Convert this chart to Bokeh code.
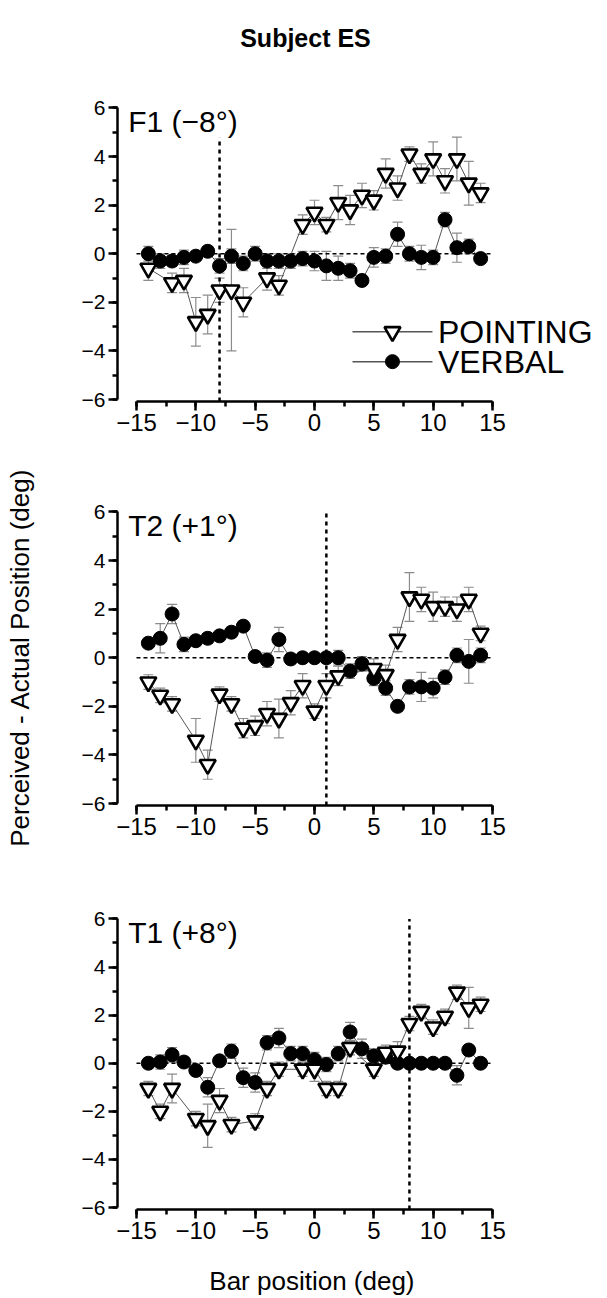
from bokeh.plotting import figure
from bokeh.models import ColumnDataSource, Whisker, TeeHead, Label, Range1d, SingleIntervalTicker
from bokeh.layouts import column
from bokeh.embed import file_html
from bokeh.resources import INLINE

# ---------------- data ----------------
title_text = "Subject ES"
y_label = "Perceived - Actual Position (deg)"
x_label = "Bar position (deg)"
series_names = ["POINTING", "VERBAL"]

x_ticks = [-15, -10, -5, 0, 5, 10, 15]
y_ticks = [-6, -4, -2, 0, 2, 4, 6]

all_x = list(range(-14, 15))

# Panel F1 (-8 deg)
f1_name = "F1 (\u22128\u00b0)"
f1_fix = -8
f1_point_x = [-14, -12, -11, -10, -9, -8, -7, -6, -4, -3, -1, 0, 1, 2, 3, 4, 5, 6, 7, 8, 9, 10, 11, 12, 13, 14]
f1_point_y = [-0.6, -1.2, -1.1, -2.8, -2.5, -1.5, -1.5, -2.0, -1.0, -1.3, 1.2, 1.7, 1.2, 2.1, 1.8, 2.4, 2.2, 3.3, 2.7, 4.1, 3.3, 3.9, 3.0, 3.9, 2.9, 2.5]
f1_point_e = [0.5, 0.4, 0.5, 1.0, 0.8, 0.5, 2.5, 0.6, 0.5, 0.4, 0.4, 0.5, 0.3, 0.7, 0.6, 0.5, 0.4, 0.6, 0.5, 0.3, 0.4, 0.7, 0.5, 0.9, 0.9, 0.4]
f1_verb_y = [0.0, -0.3, -0.3, -0.15, -0.1, 0.1, -0.5, -0.1, -0.4, 0.0, -0.3, -0.3, -0.3, -0.2, -0.3,
             -0.5, -0.6, -0.7, -1.1, -0.15, -0.1, 0.8, 0.0, -0.15, -0.15, 1.4, 0.25, 0.3, -0.2]
f1_verb_e = [0.3, 0.3, 0.2, 0.3, 0.2, 0.2, 0.3, 0.3, 0.3, 0.3, 0.3, 0.3, 0.3, 0.3, 0.4,
             0.6, 0.5, 0.3, 0.2, 0.4, 0.3, 0.5, 0.3, 0.5, 0.3, 0.3, 0.6, 0.3, 0.2]

# Panel T2 (+1 deg)
t2_name = "T2 (+1\u00b0)"
t2_fix = 1
t2_point_x = [-14, -13, -12, -10, -9, -8, -7, -6, -5, -4, -3, -2, -1, 0, 1, 2, 5, 6, 7, 8, 9, 10, 11, 12, 13, 14]
t2_point_y = [-1.0, -1.55, -1.9, -3.4, -4.4, -1.5, -1.9, -2.9, -2.8, -2.3, -2.5, -1.85, -1.15, -2.2, -1.15, -0.75, -0.45, -0.7, 0.75, 2.5, 2.4, 2.1, 2.1, 2.0, 2.4, 1.0]
t2_point_e = [0.3, 0.3, 0.3, 0.9, 0.6, 0.3, 0.3, 0.4, 0.4, 0.5, 0.8, 0.5, 0.5, 0.3, 0.5, 0.4, 0.4, 0.4, 0.5, 1.0, 0.5, 0.6, 0.4, 0.5, 0.5, 0.3]
t2_verb_y = [0.6, 0.8, 1.8, 0.55, 0.7, 0.8, 0.9, 1.05, 1.3, 0.05, -0.1, 0.75, -0.05, 0.0, 0.0,
             0.0, 0.0, -0.55, -0.25, -0.85, -1.25, -2.0, -1.2, -1.2, -1.25, -0.8, 0.1, -0.15, 0.1]
t2_verb_e = [0.2, 0.6, 0.4, 0.3, 0.2, 0.2, 0.2, 0.2, 0.2, 0.2, 0.3, 0.5, 0.2, 0.2, 0.2,
             0.2, 0.3, 0.3, 0.3, 0.3, 0.3, 0.2, 0.3, 0.6, 0.4, 0.3, 0.3, 0.9, 0.3]

# Panel T1 (+8 deg)
t1_name = "T1 (+8\u00b0)"
t1_fix = 8
t1_point_x = [-14, -13, -12, -10, -9, -8, -7, -5, -4, -3, -1, 0, 1, 2, 3, 5, 6, 7, 8, 9, 10, 11, 12, 13, 14]
t1_point_y = [-1.05, -2.0, -1.05, -2.3, -2.6, -1.55, -2.55, -2.4, -1.05, -0.25, -0.25, -0.25, -1.05, -1.05, 0.65, -0.25, 0.45, 0.5, 1.65, 2.15, 1.5, 1.95, 2.95, 2.3, 2.45]
t1_point_e = [0.3, 0.3, 0.6, 0.3, 0.9, 0.5, 0.3, 0.3, 0.3, 0.3, 0.3, 0.5, 0.3, 0.3, 0.3, 0.3, 0.3, 0.4, 0.3, 0.3, 0.3, 0.3, 0.3, 0.85, 0.3]
t1_verb_y = [0.0, 0.05, 0.35, 0.05, -0.3, -1.0, 0.1, 0.5, -0.6, -0.8, 0.85, 1.05, 0.4, 0.4, 0.15,
             -0.05, 0.4, 1.3, 0.6, 0.3, 0.25, 0.0, 0.0, 0.0, 0.0, 0.0, -0.5, 0.55, 0.0]
t1_verb_e = [0.2, 0.3, 0.3, 0.2, 0.2, 0.4, 0.2, 0.3, 0.4, 0.4, 0.3, 0.4, 0.3, 0.3, 0.3,
             0.3, 0.3, 0.4, 0.4, 0.3, 0.2, 0.2, 0.1, 0.1, 0.1, 0.1, 0.4, 0.2, 0.1]

FONT = "Liberation Sans"
ERR_COL = "#8c8c8c"
LINE_COL = "#555555"


def fmt(v):
    return str(v).replace("-", "\u2212")


def make_panel(h, top, bottom, y_end, name, fix, px, py, pe, vy, ve):
    p = figure(width=607, height=h, x_range=Range1d(-16.6, 24.69), y_range=Range1d(-6.08, y_end),
               output_backend="svg", toolbar_location=None,
               min_border_left=117, min_border_right=0, min_border_top=top, min_border_bottom=bottom)
    p.outline_line_color = None
    p.grid.visible = False

    xa = p.xaxis[0]
    xa.bounds = (-15, 15)
    xa.ticker = SingleIntervalTicker(interval=5, num_minor_ticks=2)
    xa.major_label_overrides = {t: fmt(t) for t in x_ticks}
    xa.major_label_text_font_size = "24px"
    ya = p.yaxis[0]
    ya.bounds = (-6, 6)
    ya.ticker = SingleIntervalTicker(interval=2, num_minor_ticks=2)
    ya.major_label_overrides = {t: fmt(t) for t in y_ticks}
    ya.major_label_text_font_size = "21px"
    for ax in (xa, ya):
        ax.axis_line_width = 2.5
        ax.axis_line_color = "black"
        ax.major_tick_line_width = 2.5
        ax.minor_tick_line_width = 2.5
        ax.major_tick_line_color = "black"
        ax.minor_tick_line_color = "black"
        ax.major_tick_out = 9
        ax.major_tick_in = 0
        ax.minor_tick_out = 5
        ax.minor_tick_in = 0
        ax.major_label_text_font = FONT
        ax.major_label_text_color = "black"
        ax.major_label_standoff = 3
        ax.axis_label_text_font = FONT
        ax.axis_label_text_font_style = "normal"
        ax.axis_label_text_font_size = "26px"
        ax.axis_label_text_color = "black"

    # reference lines
    p.segment(x0=[-15], y0=[0], x1=[15], y1=[0], line_color="black", line_width=1.5, line_dash="4 3")
    p.segment(x0=[fix], y0=[-6.08], x1=[fix], y1=[6.0], line_color="black", line_width=2.5, line_dash="4 4")

    # error bars
    psrc = ColumnDataSource(dict(x=px, y=py, lo=[a - b for a, b in zip(py, pe)], hi=[a + b for a, b in zip(py, pe)]))
    vsrc = ColumnDataSource(dict(x=all_x, y=vy, lo=[a - b for a, b in zip(vy, ve)], hi=[a + b for a, b in zip(vy, ve)]))
    for src in (vsrc, psrc):
        w = Whisker(source=src, base="x", upper="hi", lower="lo", line_color=ERR_COL, line_width=1.2,
                    upper_head=TeeHead(size=10, line_color=ERR_COL, line_width=1.2),
                    lower_head=TeeHead(size=10, line_color=ERR_COL, line_width=1.2))
        p.add_layout(w)

    p.line("x", "y", source=vsrc, line_color=LINE_COL, line_width=1)
    p.line("x", "y", source=psrc, line_color=LINE_COL, line_width=1)
    p.scatter("x", "y", source=vsrc, marker="circle", size=14, fill_color="black", line_color="black")
    p.scatter("x", "y", source=psrc, marker="inverted_triangle", size=16, fill_color="white",
              line_color="black", line_width=2.6)

    p.add_layout(Label(x=-15.7, y=5.45, text=name, text_font=FONT, text_font_size="30px",
                       text_color="black", text_align="left", text_baseline="middle",
                       background_fill_color="white"))
    return p


p1 = make_panel(447, 0, 46, 10.42, f1_name, f1_fix, f1_point_x, f1_point_y, f1_point_e, f1_verb_y, f1_verb_e)
p2 = make_panel(403, 62, 45, 6.1, t2_name, t2_fix, t2_point_x, t2_point_y, t2_point_e, t2_verb_y, t2_verb_e)
p3 = make_panel(448, 66, 86, 6.1, t1_name, t1_fix, t1_point_x, t1_point_y, t1_point_e, t1_verb_y, t1_verb_e)

# title (inside the top panel's extended frame)
p1.add_layout(Label(x=-0.76, y=8.89, text=title_text, text_font=FONT, text_font_size="25px",
                    text_font_style="bold", text_color="black", text_align="center", text_baseline="middle"))

# legend (custom)
p1.line([3.2, 9.94], [-3.21, -3.21], line_color=LINE_COL, line_width=1.5)
p1.scatter([6.57], [-3.21], marker="inverted_triangle", size=16, fill_color="white", line_color="black", line_width=2.6)
p1.line([3.2, 9.94], [-4.44, -4.44], line_color=LINE_COL, line_width=1.5)
p1.scatter([6.57], [-4.44], marker="circle", size=14, fill_color="black", line_color="black")
p1.add_layout(Label(x=10.4, y=-3.21, text=series_names[0], text_font=FONT, text_font_size="32px",
                    text_color="black", text_align="left", text_baseline="middle"))
p1.add_layout(Label(x=10.4, y=-4.44, text=series_names[1], text_font=FONT, text_font_size="32px",
                    text_color="black", text_align="left", text_baseline="middle"))

# shared axis labels
p2.yaxis[0].axis_label = y_label
p2.yaxis[0].axis_label_standoff = 44
# the frame extends to the right for the legend; trailing no-break spaces keep the
# centred x label under the -15..15 axis
p3.xaxis[0].axis_label = x_label + "\u00a0" * 14
p3.xaxis[0].axis_label_standoff = 24

layout = column(p1, p2, p3, spacing=0)
open("out.html", "w").write(file_html(layout, INLINE))
